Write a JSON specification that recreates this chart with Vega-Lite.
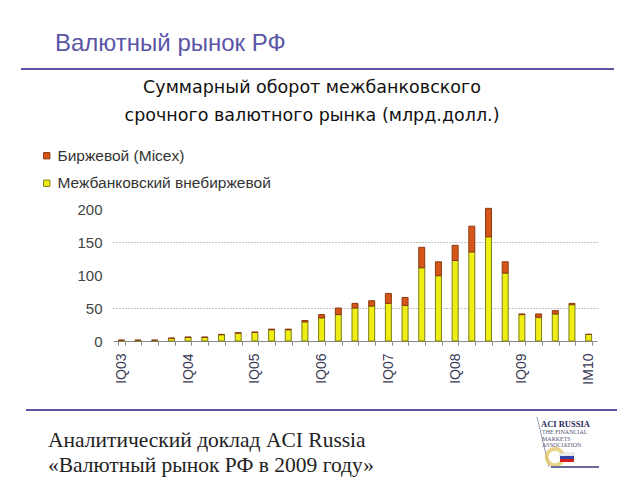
{
  "$schema": "https://vega.github.io/schema/vega-lite/v6.json",
  "autosize": {"type": "none"},
  "width": 484,
  "height": 132,
  "padding": {"left": 113, "top": 209, "right": 43, "bottom": 139},
  "background": "white",
  "config": {"view": {"stroke": null}, "font": "Liberation Sans"},
  "layer": [
    {
      "data": {"values": [
        {"q":"IQ03","series":"Межбанковский внебиржевой","v":1},{"q":"IQ03","series":"Биржевой (Micex)","v":0.3},
        {"q":"IIQ03","series":"Межбанковский внебиржевой","v":1},{"q":"IIQ03","series":"Биржевой (Micex)","v":0.3},
        {"q":"IIIQ03","series":"Межбанковский внебиржевой","v":1},{"q":"IIIQ03","series":"Биржевой (Micex)","v":0.3},
        {"q":"IVQ03","series":"Межбанковский внебиржевой","v":4},{"q":"IVQ03","series":"Биржевой (Micex)","v":0.5},
        {"q":"IQ04","series":"Межбанковский внебиржевой","v":5.5},{"q":"IQ04","series":"Биржевой (Micex)","v":0.5},
        {"q":"IIQ04","series":"Межбанковский внебиржевой","v":5.5},{"q":"IIQ04","series":"Биржевой (Micex)","v":0.5},
        {"q":"IIIQ04","series":"Межбанковский внебиржевой","v":9.5},{"q":"IIIQ04","series":"Биржевой (Micex)","v":0.5},
        {"q":"IVQ04","series":"Межбанковский внебиржевой","v":12},{"q":"IVQ04","series":"Биржевой (Micex)","v":0.6},
        {"q":"IQ05","series":"Межбанковский внебиржевой","v":13},{"q":"IQ05","series":"Биржевой (Micex)","v":0.6},
        {"q":"IIQ05","series":"Межбанковский внебиржевой","v":17},{"q":"IIQ05","series":"Биржевой (Micex)","v":1},
        {"q":"IIIQ05","series":"Межбанковский внебиржевой","v":17},{"q":"IIIQ05","series":"Биржевой (Micex)","v":1},
        {"q":"IVQ05","series":"Межбанковский внебиржевой","v":29},{"q":"IVQ05","series":"Биржевой (Micex)","v":2},
        {"q":"IQ06","series":"Межбанковский внебиржевой","v":35},{"q":"IQ06","series":"Биржевой (Micex)","v":5},
        {"q":"IIQ06","series":"Межбанковский внебиржевой","v":40},{"q":"IIQ06","series":"Биржевой (Micex)","v":10},
        {"q":"IIIQ06","series":"Межбанковский внебиржевой","v":50},{"q":"IIIQ06","series":"Биржевой (Micex)","v":7},
        {"q":"IVQ06","series":"Межбанковский внебиржевой","v":53},{"q":"IVQ06","series":"Биржевой (Micex)","v":8},
        {"q":"IQ07","series":"Межбанковский внебиржевой","v":57},{"q":"IQ07","series":"Биржевой (Micex)","v":15},
        {"q":"IIQ07","series":"Межбанковский внебиржевой","v":54},{"q":"IIQ07","series":"Биржевой (Micex)","v":12},
        {"q":"IIIQ07","series":"Межбанковский внебиржевой","v":111},{"q":"IIIQ07","series":"Биржевой (Micex)","v":31},
        {"q":"IVQ07","series":"Межбанковский внебиржевой","v":99},{"q":"IVQ07","series":"Биржевой (Micex)","v":21},
        {"q":"IQ08","series":"Межбанковский внебиржевой","v":122},{"q":"IQ08","series":"Биржевой (Micex)","v":23},
        {"q":"IIQ08","series":"Межбанковский внебиржевой","v":135},{"q":"IIQ08","series":"Биржевой (Micex)","v":39},
        {"q":"IIIQ08","series":"Межбанковский внебиржевой","v":158},{"q":"IIIQ08","series":"Биржевой (Micex)","v":43},
        {"q":"IVQ08","series":"Межбанковский внебиржевой","v":103},{"q":"IVQ08","series":"Биржевой (Micex)","v":17},
        {"q":"IQ09","series":"Межбанковский внебиржевой","v":40},{"q":"IQ09","series":"Биржевой (Micex)","v":1},
        {"q":"IIQ09","series":"Межбанковский внебиржевой","v":36},{"q":"IIQ09","series":"Биржевой (Micex)","v":5},
        {"q":"IIIQ09","series":"Межбанковский внебиржевой","v":41},{"q":"IIIQ09","series":"Биржевой (Micex)","v":5},
        {"q":"IVQ09","series":"Межбанковский внебиржевой","v":55},{"q":"IVQ09","series":"Биржевой (Micex)","v":2},
        {"q":"IM10","series":"Межбанковский внебиржевой","v":10},{"q":"IM10","series":"Биржевой (Micex)","v":0}
      ]},
      "mark": {"type": "bar", "size": 6, "strokeWidth": 1},
      "encoding": {
        "x": {"field": "q", "type": "nominal", "sort": null,
              "scale": {"paddingInner": 0.6, "paddingOuter": 0.3},
              "axis": {"title": null, "labelAngle": -90, "tickBand": "extent", "tickSize": 4,
                       "domainColor": "#8a8a8a", "tickColor": "#8a8a8a", "labelPadding": 8,
                       "labelFontSize": 14, "labelColor": "#3a3a55", "labelFont": "Liberation Sans",
                       "labelExpr": "test(/^I[QM]/, '' + datum.label) ? datum.label : ''"}},
        "y": {"field": "v", "type": "quantitative", "stack": "zero",
              "scale": {"domain": [0, 200], "nice": false},
              "axis": {"title": null, "values": [0, 50, 100, 150, 200], "domain": false, "ticks": false,
                       "labelPadding": 11, "labelFontSize": 15, "labelColor": "#444444",
                       "grid": true, "gridDash": [1, 2], "gridColor": "#888888",
                       "gridOpacity": {"condition": {"test": "datum.value == 50 || datum.value == 150", "value": 1}, "value": 0}}},
        "color": {"field": "series", "type": "nominal",
                  "scale": {"domain": ["Биржевой (Micex)", "Межбанковский внебиржевой"], "range": ["#d6561a", "#eeee14"]},
                  "legend": {"title": null, "orient": "none", "legendX": -74, "legendY": -61,
                             "symbolType": "square", "symbolSize": 40, "labelFontSize": 15.5, "labelColor": "#333333",
                             "rowPadding": 10.5, "labelOffset": 3, "labelLimit": 0, "symbolStrokeWidth": 1}},
        "stroke": {"field": "series", "type": "nominal",
                   "scale": {"domain": ["Биржевой (Micex)", "Межбанковский внебиржевой"], "range": ["#8a3a10", "#7e7e18"]},
                   "legend": {"title": null, "orient": "none", "legendX": -74, "legendY": -61,
                             "symbolType": "square", "symbolSize": 40, "labelFontSize": 15.5, "labelColor": "#333333",
                             "rowPadding": 10.5, "labelOffset": 3, "labelLimit": 0, "symbolStrokeWidth": 1}},
        "order": {"field": "series", "type": "nominal", "sort": "descending"}
      }
    },
    {
      "data": {"values": [{}]},
      "mark": {"type": "text", "text": "Валютный рынок РФ", "align": "left", "baseline": "alphabetic",
               "font": "Liberation Sans", "fontSize": 24, "fill": "#5b55a6"},
      "encoding": {"x": {"value": -58}, "y": {"value": -158}}
    },
    {
      "data": {"values": [{}]},
      "mark": {"type": "rule", "stroke": "#5b55a6", "strokeWidth": 2},
      "encoding": {"x": {"value": -92}, "x2": {"value": 501}, "y": {"value": -140}, "y2": {"value": -140}}
    },
    {
      "data": {"values": [{}]},
      "mark": {"type": "text", "text": ["Суммарный оборот межбанковского", "срочного валютного рынка (млрд.долл.)"],
               "align": "center", "baseline": "alphabetic", "lineHeight": 28,
               "font": "DejaVu Sans", "fontSize": 17.5, "fill": "#111111"},
      "encoding": {"x": {"value": 199}, "y": {"value": -116}}
    },
    {
      "data": {"values": [{}]},
      "mark": {"type": "rule", "stroke": "#5b55a6", "strokeWidth": 2},
      "encoding": {"x": {"value": -87}, "x2": {"value": 504}, "y": {"value": 201}, "y2": {"value": 201}}
    },
    {
      "data": {"values": [{}]},
      "mark": {"type": "text", "text": ["Аналитический доклад ACI Russia", "«Валютный рынок РФ в 2009 году»"],
               "align": "left", "baseline": "alphabetic", "lineHeight": 25,
               "font": "Liberation Serif", "fontSize": 21.5, "fill": "#222222"},
      "encoding": {"x": {"value": -65}, "y": {"value": 238}}
    },
    {
      "data": {"values": [{}]},
      "mark": {"type": "rule", "stroke": "#9a9ab8", "strokeWidth": 1},
      "encoding": {"x": {"value": 424}, "x2": {"value": 436}, "y": {"value": 208}, "y2": {"value": 258}}
    },
    {
      "data": {"values": [{}]},
      "mark": {"type": "text", "text": "ACI RUSSIA", "align": "left",
               "font": "Liberation Serif", "fontSize": 8.5, "fontWeight": "bold", "fill": "#2a2a5a"},
      "encoding": {"x": {"value": 428}, "y": {"value": 215}}
    },
    {
      "data": {"values": [{}]},
      "mark": {"type": "text", "text": ["THE FINANCIAL", "MARKETS", "ASSOCIATION"], "align": "left",
               "font": "Liberation Serif", "fontSize": 6, "lineHeight": 6.5, "fill": "#555577"},
      "encoding": {"x": {"value": 429}, "y": {"value": 223}}
    },
    {
      "data": {"values": [{}]},
      "mark": {"type": "point", "filled": false, "stroke": "#e2c25a", "strokeWidth": 4, "size": 280, "shape": "circle"},
      "encoding": {"x": {"value": 442}, "y": {"value": 248}}
    },
    {
      "data": {"values": [{}]},
      "mark": {"type": "rect", "fill": "#f2f2f2", "stroke": "#bbbbbb", "strokeWidth": 0.5},
      "encoding": {"x": {"value": 447}, "x2": {"value": 461}, "y": {"value": 244}, "y2": {"value": 247}}
    },
    {
      "data": {"values": [{}]},
      "mark": {"type": "rect", "fill": "#3344aa"},
      "encoding": {"x": {"value": 447}, "x2": {"value": 461}, "y": {"value": 247}, "y2": {"value": 250}}
    },
    {
      "data": {"values": [{}]},
      "mark": {"type": "rect", "fill": "#d02020"},
      "encoding": {"x": {"value": 447}, "x2": {"value": 461}, "y": {"value": 250}, "y2": {"value": 253}}
    },
    {
      "data": {"values": [{}]},
      "mark": {"type": "rule", "stroke": "#6a6a9a", "strokeWidth": 2},
      "encoding": {"x": {"value": 438}, "x2": {"value": 486}, "y": {"value": 258}, "y2": {"value": 258}}
    }
  ]
}
